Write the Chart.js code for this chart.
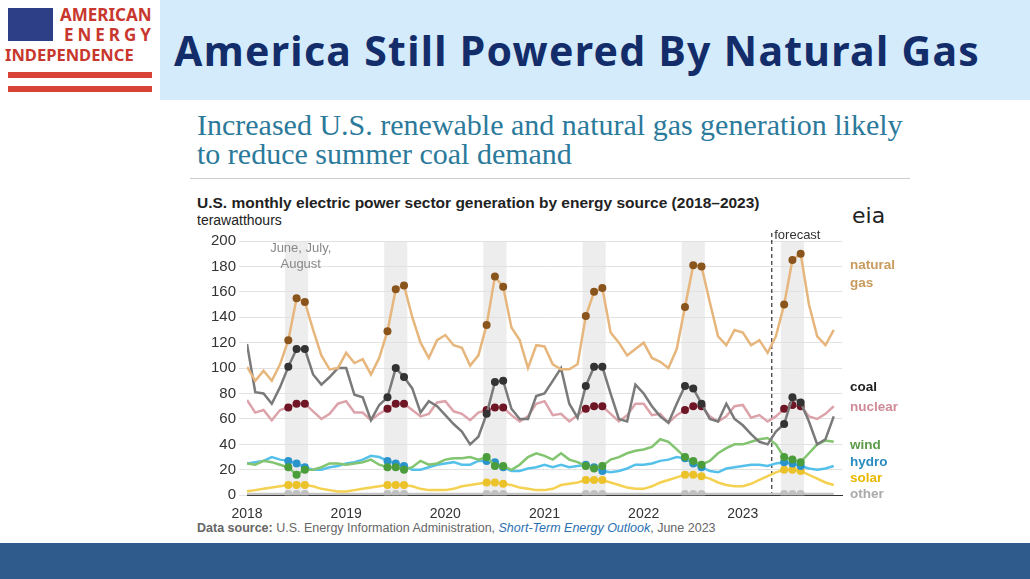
<!DOCTYPE html>
<html><head><meta charset="utf-8">
<script src="https://cdn.jsdelivr.net/npm/chart.js@4/dist/chart.umd.min.js"></script>
<style>
body{margin:0;width:1030px;height:579px;position:relative;background:#fff;font-family:"Liberation Sans",Arial,sans-serif;overflow:hidden}
#hdr{position:absolute;left:160px;top:0;width:870px;height:100px;background:#d3ebfa}
#hdr h1{margin:0;position:absolute;left:14px;top:22px;font-family:"Noto Sans",sans-serif;font-size:41px;font-weight:bold;color:#132d6b;letter-spacing:1.3px}
#logo{position:absolute;left:0;top:0;width:158px;height:100px}
.flag{position:absolute;left:8px;top:8px;width:45px;height:33px;background:#2d3f86}
.lt{position:absolute;color:#c8372d;font-weight:bold;font-family:"Noto Sans",sans-serif}
.stripe{position:absolute;left:8px;width:144px;height:6px;background:#d84335}
#sub{position:absolute;left:197px;top:110px;font-family:"Liberation Serif",serif;font-size:30px;line-height:29px;color:#2c7a9b}
#rule{position:absolute;left:190px;top:178px;width:720px;height:1px;background:#ccc}
#ct{position:absolute;left:197px;top:194px;font-size:15.5px;font-weight:bold;color:#222}
#unit{position:absolute;left:197px;top:212px;font-size:14px;color:#222}
#eia{position:absolute;left:852px;top:203px;font-size:22px;color:#222;font-family:"DejaVu Sans",sans-serif}
#src{position:absolute;left:197px;top:521px;font-size:12.5px;color:#666}
#foot{position:absolute;left:0;top:543px;width:1030px;height:36px;background:#2f5b8c}
#wrap{position:absolute;left:180px;top:228px;width:730px;height:298px}
</style></head><body>
<div id="logo"><div class="flag"></div>
<div class="lt" style="left:60px;top:3px;font-size:17px">AMERICAN</div>
<div class="lt" style="left:64px;top:23px;font-size:17px;letter-spacing:4px">ENERGY</div>
<div class="lt" style="left:5px;top:43px;font-size:16.5px">INDEPENDENCE</div>
<div class="stripe" style="top:72px"></div><div class="stripe" style="top:86px"></div></div>
<div id="hdr"><h1>America Still Powered By Natural Gas</h1></div>
<div id="sub">Increased U.S. renewable and natural gas generation likely<br>to reduce summer coal demand</div>
<div id="rule"></div>
<div id="ct">U.S. monthly electric power sector generation by energy source (2018–2023)</div>
<div id="unit">terawatthours</div>
<div id="eia">eia</div>
<div id="src"><b>Data source:</b> U.S. Energy Information Administration, <i style="color:#2a6fb0">Short-Term Energy Outlook</i>, June 2023</div>
<div id="wrap"><canvas id="c"></canvas></div>
<div id="foot"></div>
<script>
// monthly values, Jan 2018 .. Dec 2023 (TWh)
const years = ['2018','2019','2020','2021','2022','2023'];
const naturalGas = [101,90,98,90,103,122,155,152,130,110,99,100,
  112,104,107,95,108,129,162,165,140,120,108,122,
  126,118,116,102,110,134,172,164,132,122,100,118,
  117,103,99,99,103,141,160,163,128,120,110,115,
  120,108,105,100,115,148,181,180,152,125,118,130,
  128,118,122,112,125,150,185,190,150,125,118,130];
const coal = [119,81,80,72,85,101,115,115,95,87,93,100,
  100,79,77,59,71,77,100,93,84,65,74,70,
  63,56,50,40,46,64,89,90,68,60,60,78,
  80,90,100,72,61,86,101,101,80,60,58,87,
  80,70,62,57,72,86,84,72,60,58,72,60,
  55,48,42,40,50,56,77,73,58,40,44,62];
const nuclear = [75,65,67,59,67,69,72,72,66,60,64,72,
  74,65,65,59,64,68,72,72,67,62,64,73,
  74,66,64,59,65,67,69,69,63,58,62,72,
  74,63,64,58,63,68,70,70,64,58,63,72,
  72,63,64,57,63,67,70,70,62,58,62,70,
  71,61,63,58,62,68,71,70,62,60,64,70];
const wind = [25,24,27,26,24,22,16,20,20,22,25,25,
  24,25,26,28,24,22,22,20,22,27,24,25,
  28,29,29,30,28,30,23,23,20,24,30,33,
  31,28,33,28,26,23,21,23,28,30,33,35,
  36,38,44,42,36,30,27,24,27,33,37,40,
  40,42,44,45,40,30,28,26,33,40,43,42];
const hydro = [25,26,27,30,28,27,25,22,20,20,22,23,
  25,26,28,31,30,27,25,23,20,20,22,24,
  25,26,24,24,27,27,26,22,19,19,21,22,
  24,22,24,22,23,24,22,19,18,19,21,24,
  24,25,27,28,30,29,25,22,19,18,21,22,
  23,24,24,23,25,26,25,23,21,20,21,23];
const solar = [3,4,5,6,7,8,8,8,7,5,4,3,
  3,4,5,6,7,8,8,8,7,5,4,4,
  4,5,7,8,9,10,10,9,8,6,5,4,
  4,5,8,9,10,12,12,12,10,8,6,5,
  5,7,10,12,14,16,16,15,13,10,8,7,
  7,9,12,15,18,20,20,19,16,13,10,8];
const other = new Array(72).fill(1);

const summer = i => i % 12 >= 5 && i % 12 <= 7;
function ds(label, data, line, dot) {
  return { label, data: data.map((v, i) => ({ x: i, y: v })), borderColor: line, borderWidth: 2.5,
    pointRadius: c => summer(c.dataIndex) ? 4 : 0, pointBackgroundColor: dot, pointBorderWidth: 0,
    pointHoverRadius: 0, tension: 0 };
}
const labels = [
  ['natural', 178, '#c89a5c'], ['gas', 164, '#c89a5c'], ['coal', 82, '#222'], ['nuclear', 66, '#d08a96'],
  ['wind', 36, '#5a9a48'], ['hydro', 23, '#2a8cc0'], ['solar', 10, '#e8b800'], ['other', -2, '#aaa']];
const deco = {
  id: 'deco',
  beforeDatasetsDraw(ch) {
    const { ctx, chartArea: a, scales: { x, y } } = ch;
    ctx.save();
    ctx.fillStyle = 'rgba(225,225,225,0.6)';
    for (let k = 0; k < 6; k++) {
      const x0 = x.getPixelForValue(k * 12 + 4.6), x1 = x.getPixelForValue(k * 12 + 7.4);
      ctx.fillRect(x0, a.top, x1 - x0, a.bottom - a.top);
    }
    const fx = x.getPixelForValue(63.5);
    ctx.strokeStyle = '#333'; ctx.setLineDash([4, 3]); ctx.lineWidth = 1.2;
    ctx.beginPath(); ctx.moveTo(fx, a.top - 8); ctx.lineTo(fx, a.bottom); ctx.stroke();
    ctx.restore();
  },
  afterDatasetsDraw(ch) {
    const { ctx, chartArea: a, scales: { x, y } } = ch;
    ctx.save();
    ctx.font = '13px "Liberation Sans", Arial';
    ctx.fillStyle = '#333'; ctx.textAlign = 'left';
    ctx.fillText('forecast', x.getPixelForValue(63.8), a.top - 2);
    ctx.fillStyle = '#888'; ctx.textAlign = 'center';
    ctx.fillText('June, July,', x.getPixelForValue(6.5), y.getPixelForValue(191));
    ctx.fillText('August', x.getPixelForValue(6.5), y.getPixelForValue(179));
    ctx.font = 'bold 13.5px "Liberation Sans", Arial'; ctx.textAlign = 'left';
    labels.forEach(([t, v, c]) => { ctx.fillStyle = c; ctx.fillText(t, a.right + 8, y.getPixelForValue(v)); });
    ctx.restore();
  }
};
new Chart(document.getElementById('c'), {
  type: 'line',
  data: { datasets: [
    ds('natural gas', naturalGas, '#e6b67c', '#8a551c'),
    ds('coal', coal, '#7a7a7a', '#333'),
    ds('nuclear', nuclear, '#dca3ab', '#6e1526'),
    ds('wind', wind, '#82c46f', '#4b9c3a'),
    ds('hydro', hydro, '#55c1ea', '#2a93cc'),
    ds('solar', solar, '#f4d150', '#ecc22a'),
    ds('other', other, '#c4c4c4', '#c0c0c0')] },
  options: {
    responsive: true, maintainAspectRatio: false, animation: false,
    layout: { padding: { top: 13, right: 68, left: 0 } },
    plugins: { legend: { display: false }, tooltip: { enabled: false } },
    scales: {
      x: { type: 'linear', min: 0, max: 72,
        afterBuildTicks: s => { s.ticks = years.map((_, i) => ({ value: i * 12 })); },
        ticks: { callback: v => years[v / 12], color: '#333', font: { size: 14 } },
        grid: { display: false, drawTicks: true }, border: { color: '#333' } },
      y: { min: 0, max: 200, ticks: { stepSize: 20, color: '#333', font: { size: 15 } },
        afterFit: s => { s.width = 67; },
        grid: { color: '#e2e2e2' }, border: { display: false } }
    }
  },
  plugins: [deco]
});
</script>
</body></html>
